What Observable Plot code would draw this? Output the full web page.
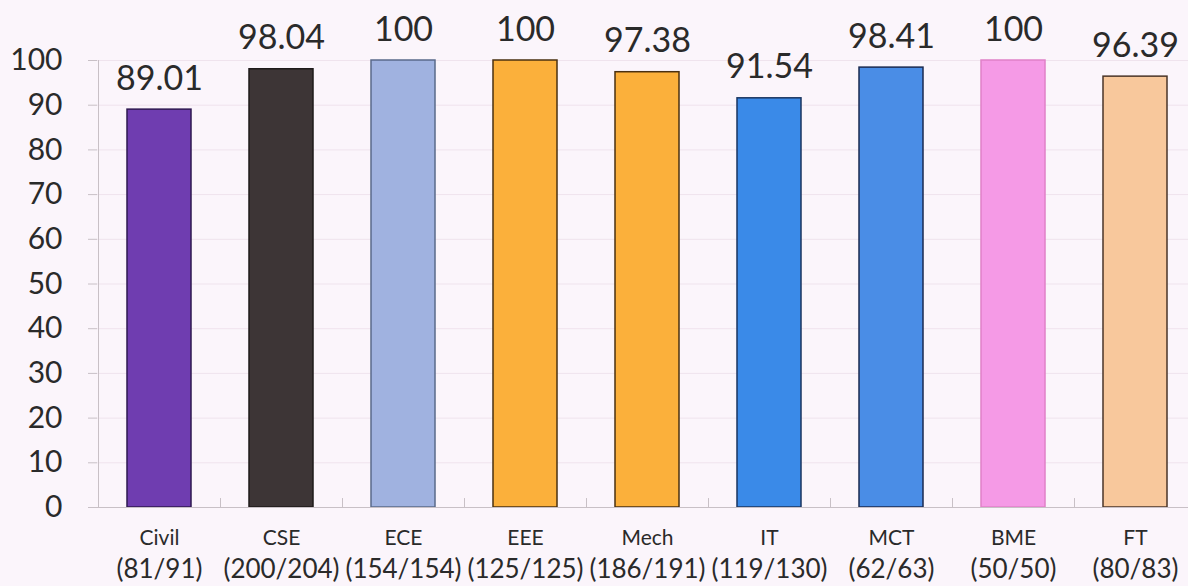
<!DOCTYPE html>
<html>
<head>
<meta charset="utf-8">
<script src="https://cdn.jsdelivr.net/npm/d3@7"></script>
<script src="https://cdn.jsdelivr.net/npm/@observablehq/plot@0.6"></script>
<style>
  html, body { margin: 0; padding: 0; background: #fbf5fb; }
  #chart svg { display: block; background: #fbf5fb; }
</style>
</head>
<body>
<div id="chart"></div>
<script>
const departments = ["Civil", "CSE", "ECE", "EEE", "Mech", "IT", "MCT", "BME", "FT"];
const counts = ["(81/91)", "(200/204)", "(154/154)", "(125/125)", "(186/191)", "(119/130)", "(62/63)", "(50/50)", "(80/83)"];
const percentages = [89.01, 98.04, 100, 100, 97.38, 91.54, 98.41, 100, 96.39];
const valueLabels = ["89.01", "98.04", "100", "100", "97.38", "91.54", "98.41", "100", "96.39"];
const fills = ["#6f3db0", "#3d3536", "#a0b2e0", "#fbb03b", "#fbb03b", "#3a8ae8", "#4a8de6", "#f59ae6", "#f8c89c"];
const strokes = ["#2e1850", "#1e1a1a", "#5a6a8a", "#4a3010", "#4a3010", "#1a3560", "#1a2a50", "#e080c8", "#4a3528"];
const yTicks = [0, 10, 20, 30, 40, 50, 60, 70, 80, 90, 100];

const data = departments.map((d, i) => ({
  dept: d, count: counts[i], value: percentages[i], label: valueLabels[i], fill: fills[i], stroke: strokes[i]
}));
const countOf = new Map(departments.map((d, i) => [d, counts[i]]));

const font = "Lato, 'Open Sans', sans-serif";

const chart = Plot.plot({
  width: 1188,
  height: 586,
  marginTop: 60,
  marginBottom: 79,
  marginLeft: 97,
  marginRight: 0,
  style: { fontFamily: font, background: "#fbf5fb", color: "#2a2a2a" },
  x: { domain: departments, range: [97, 1197], paddingInner: 0.476, paddingOuter: 0.238, label: null },
  y: { domain: [0, 100], label: null },
  color: { type: "identity" },
  marks: [
    Plot.gridY(yTicks, { stroke: "#efe3ed", strokeOpacity: 1 }),
    Plot.barY(data, { x: "dept", y: "value", fill: "fill", stroke: "stroke", strokeWidth: 1.5 }),
    Plot.ruleY([0], { stroke: "#c8c0c6", strokeWidth: 1.2 }),
    Plot.ruleX(departments.slice(0, 1), { x: d => d, dx: -61, y1: 0, y2: 100, stroke: "#c8c0c6" }),
    Plot.axisY({ ticks: yTicks, tickSize: 9, tickPadding: 26, fontSize: 30, stroke: "#c8c0c6", label: null, fill: "#2a2a2a" }),
    Plot.ruleX(departments, { x: d => d, dx: 61, y1: 0, y2: 2, stroke: "#c8c0c6" }),
    Plot.axisX({ tickSize: 0, tickPadding: 23, fontSize: 21, fill: "#2a2a2a", label: null }),
    Plot.axisX({ tickSize: 0, tickPadding: 52, fontSize: 26, fill: "#2a2a2a", label: null, tickFormat: d => countOf.get(d) }),
    Plot.text(data, { x: "dept", y: "value", text: "label", dy: -20, lineAnchor: "bottom", fontSize: 34, fill: "#2a2a2a" })
  ]
});
document.getElementById("chart").appendChild(chart);
</script>
</body>
</html>
